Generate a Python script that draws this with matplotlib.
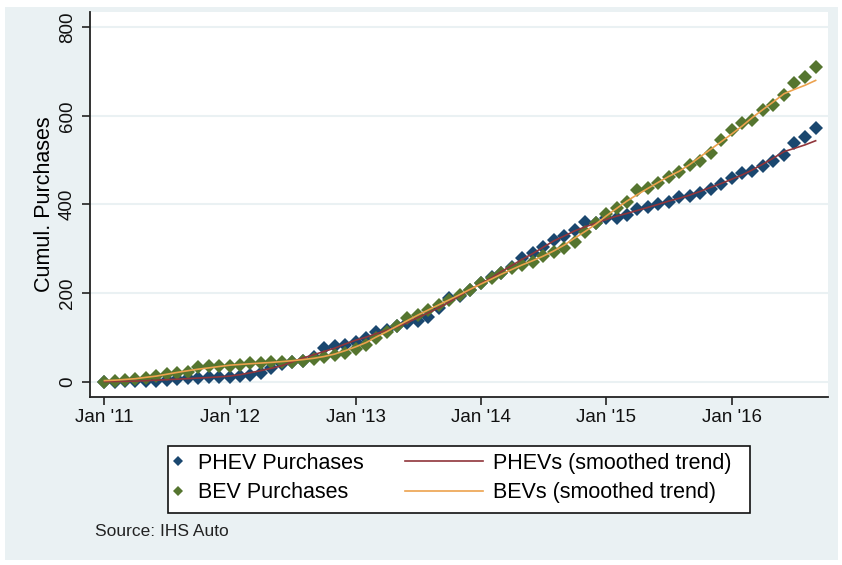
#!/usr/bin/env python3
# -*- coding: utf-8 -*-

import matplotlib
matplotlib.use("Agg")
import matplotlib.pyplot as plt
from matplotlib.patches import Rectangle
from matplotlib.lines import Line2D
import pandas as pd

# monthly cumulative purchases, Jan 2011 .. Sep 2016
phev = [0, 0, 1, 2, 2, 3, 5, 6, 8, 9, 10, 11,
        12, 14, 16, 20, 32, 40, 45, 48, 56, 76, 80, 84,
        91, 98, 112, 117, 125, 132, 138, 147, 166, 189, 194, 207,
        222, 237, 245, 260, 279, 290, 305, 320, 328, 343, 361, 358,
        369, 370, 376, 390, 394, 401, 406, 416, 419, 427, 434, 446,
        459, 470, 476, 487, 497, 512, 538, 553, 572]
bev = [0, 2, 4, 6, 8, 13, 18, 21, 22, 33, 35, 35,
       37, 39, 42, 43, 45, 46, 46, 47, 52, 56, 60, 66,
       74, 84, 100, 113, 125, 144, 151, 162, 174, 185, 196, 207,
       222, 234, 245, 256, 264, 271, 283, 294, 301, 316, 339, 358,
       379, 391, 405, 433, 438, 448, 463, 474, 489, 497, 516, 546,
       568, 583, 591, 613, 625, 647, 673, 688, 711]
months = pd.date_range("2011-01-01", periods=len(phev), freq="MS")
tick_years = [2011, 2012, 2013, 2014, 2015, 2016]
tick_labels = ["Jan '11", "Jan '12", "Jan '13", "Jan '14", "Jan '15", "Jan '16"]

NAVY = "#1a476f"
GREEN = "#55752f"
MAROON = "#90353b"
ORANGE = "#eca24e"
PANEL = "#eaf1f3"


def smooth(vals):
    # centred 7-month moving average, shorter window at the ends
    return pd.Series(vals).rolling(7, center=True, min_periods=1).mean().values


def cumulative_purchases():
    plt.rcParams["font.family"] = ["Liberation Sans", "DejaVu Sans"]
    W, H = 842, 565
    fig = plt.figure(figsize=(W / 100, H / 100), dpi=100)
    fig.patch.set_facecolor("white")
    fig.patches.append(Rectangle((5 / W, 1 - 560 / H), 833 / W, 553 / H,
                                 transform=fig.transFigure, facecolor=PANEL,
                                 edgecolor="none", zorder=-10))

    ax = fig.add_axes([90 / W, 1 - 397 / H, 738 / W, 385 / H])
    ax.set_facecolor("white")

    ax.plot(months, phev, "D", color=NAVY, ms=7.6, mew=0, zorder=3)
    ax.plot(months, bev, "D", color=GREEN, ms=7.6, mew=0, zorder=3)
    ax.plot(months, smooth(phev), color=MAROON, lw=1.2, zorder=4)
    ax.plot(months, smooth(bev), color=ORANGE, lw=1.2, zorder=4)

    ax.set_xlim(pd.Timestamp("2010-11-20"), pd.Timestamp("2016-10-07"))
    ax.set_ylim(-34, 834)
    ax.set_xticks([pd.Timestamp(f"{y}-01-01") for y in tick_years])
    ax.set_xticklabels(tick_labels, fontsize=13.5)
    ax.set_yticks([0, 200, 400, 600, 800])
    ax.set_yticklabels(["0", "200", "400", "600", "800"], fontsize=13.5,
                       rotation=90, va="center")
    ax.set_ylabel("Cumul. Purchases", fontsize=15.5, labelpad=3)

    ax.grid(axis="y", color=PANEL, lw=1.5)
    ax.set_axisbelow(True)
    for s in ("top", "right"):
        ax.spines[s].set_visible(False)
    for s in ("left", "bottom"):
        ax.spines[s].set_color("#222222")
        ax.spines[s].set_linewidth(1.3)
    ax.tick_params(length=6, width=1.2, color="#222222", labelcolor="#111111")
    ax.tick_params(axis="y", pad=4)
    ax.tick_params(axis="x", pad=3)

    # legend: white box with two columns
    fig.patches.append(Rectangle((168 / W, 1 - 513 / H), 582 / W, 67 / H,
                                 transform=fig.transFigure, facecolor="white",
                                 edgecolor="#111111", lw=1.2, zorder=1))
    mk = [Line2D([], [], ls="none", marker="D", color=NAVY, ms=5, mew=0),
          Line2D([], [], ls="none", marker="D", color=GREEN, ms=5, mew=0)]
    ln = [Line2D([], [], color=MAROON, lw=1.2),
          Line2D([], [], color=ORANGE, lw=1.2)]
    leg1 = fig.legend(mk, ["PHEV Purchases", "BEV Purchases"], loc="center left",
                      bbox_to_anchor=(169 / W, 1 - 478 / H), frameon=False,
                      fontsize=15.5, handlelength=0.85, handletextpad=0.5,
                      labelspacing=0.4, borderpad=0, borderaxespad=0)
    leg2 = fig.legend(ln, ["PHEVs (smoothed trend)", "BEVs (smoothed trend)"],
                      loc="center left", bbox_to_anchor=(405 / W, 1 - 478 / H),
                      frameon=False, fontsize=15.5, handlelength=3.6,
                      handletextpad=0.47, labelspacing=0.4, borderpad=0,
                      borderaxespad=0)
    leg1.set_zorder(5)
    leg2.set_zorder(5)

    fig.text(95 / W, 1 - 531 / H, "Source: IHS Auto", fontsize=12.5,
             va="center", ha="left", color="#222222")

    fig.savefig("out.png", dpi=100)


if __name__ == "__main__":
    cumulative_purchases()
